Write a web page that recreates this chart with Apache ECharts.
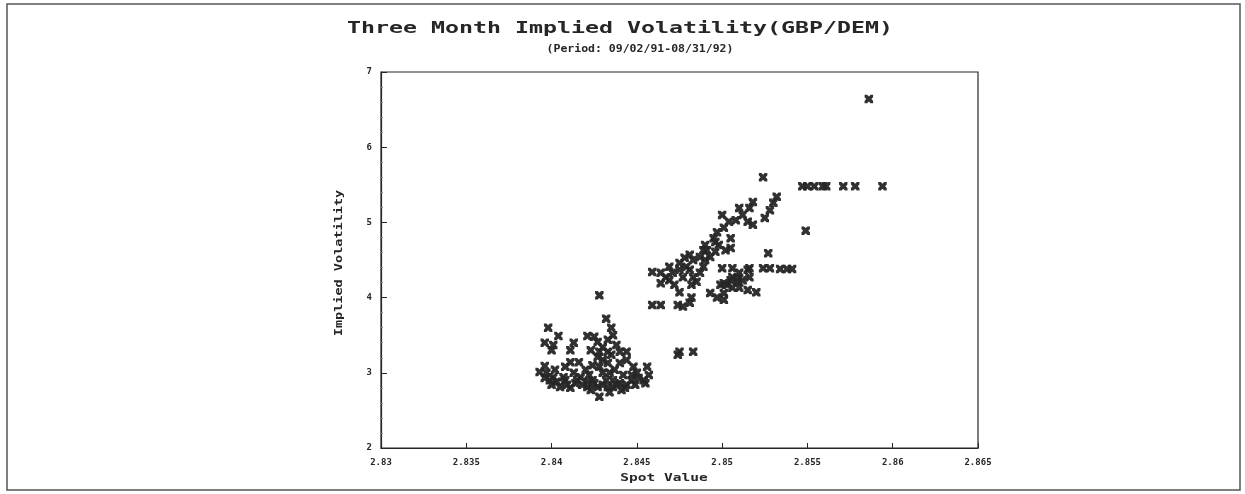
<!DOCTYPE html>
<html>
<head>
<meta charset="utf-8">
<script src="https://cdn.jsdelivr.net/npm/echarts@6/dist/echarts.min.js"></script>
<style>
  html, body { margin: 0; padding: 0; background: #fff; }
  #chart { width: 1245px; height: 494px; }
</style>
</head>
<body>
<div id="chart"></div>
<script>
// ===== data =====
const xTicks = [2.83, 2.835, 2.84, 2.845, 2.85, 2.855, 2.86, 2.865];
const yTicks = [2, 3, 4, 5, 6, 7];

// spot value / implied volatility pairs
const spotValues = [
  2.8428, 2.8432, 2.8435, 2.8436, 2.8398, 2.8404, 2.8396, 2.8400, 2.8401, 2.8413,
  2.8411, 2.8421, 2.8425, 2.8427, 2.8428, 2.8433, 2.8440, 2.8444, 2.8396, 2.8397,
  2.8401, 2.8403, 2.8407, 2.8411, 2.8413, 2.8417, 2.8421, 2.8424, 2.8428, 2.8430,
  2.8433, 2.8434, 2.8436, 2.8440, 2.8443, 2.8440, 2.8444, 2.8448, 2.8450, 2.8456,
  2.8454, 2.8455, 2.8428, 2.8399, 2.8405, 2.8393, 2.8421, 2.8427, 2.8433, 2.8436,
  2.8430, 2.8427, 2.8430, 2.8414, 2.8422, 2.8437, 2.8447, 2.8449, 2.8442, 2.8432,
  2.8409, 2.8402,
  2.8396, 2.8400, 2.8408, 2.8411, 2.8415, 2.8418, 2.8423, 2.8425, 2.8430, 2.8434,
  2.8438, 2.8441, 2.8444, 2.8447, 2.8451, 2.8457, 2.8420, 2.8424, 2.8435, 2.8438,
  2.8433, 2.8423, 2.8408, 2.8416,
  2.8474, 2.8475, 2.8483,
  2.8496, 2.8505, 2.8527, 2.8491, 2.8459, 2.8464, 2.8467, 2.8469, 2.8464, 2.8471,
  2.8475, 2.8477, 2.8481, 2.8483, 2.8485, 2.8482, 2.8475, 2.8500, 2.8506, 2.8501,
  2.8506, 2.8509, 2.8510, 2.8516, 2.8524, 2.8528, 2.8534, 2.8538, 2.8541, 2.8520,
  2.8493, 2.8497, 2.8501, 2.8459, 2.8464, 2.8474, 2.8477, 2.8481, 2.8482,
  2.8472, 2.8490, 2.8502,
  2.8524, 2.8532, 2.8530, 2.8528, 2.8518, 2.8516, 2.8510, 2.8512, 2.8515, 2.8518,
  2.8508, 2.8525, 2.8549, 2.8500, 2.8504, 2.8501, 2.8497, 2.8495, 2.8498, 2.8505,
  2.8489, 2.8487, 2.8490, 2.8483, 2.8481, 2.8478, 2.8479, 2.8475, 2.8469, 2.8487,
  2.8489, 2.8493, 2.8496, 2.8510, 2.8515, 2.8505, 2.8509, 2.8512, 2.8516, 2.8506,
  2.8503, 2.8499, 2.8501, 2.8515,
  2.8586, 2.8547, 2.8550, 2.8554, 2.8559, 2.8561, 2.8571, 2.8578, 2.8594
];
const impliedVols = [
  4.03, 3.72, 3.60, 3.50, 3.60, 3.49, 3.40, 3.30, 3.37, 3.40,
  3.30, 3.49, 3.48, 3.41, 3.28, 3.28, 3.28, 3.28, 3.09, 3.00,
  2.94, 2.88, 2.94, 3.14, 3.00, 2.94, 2.88, 2.90, 3.08, 3.17,
  3.13, 3.00, 2.90, 2.86, 2.80, 3.13, 3.17, 3.08, 3.00, 3.08,
  2.90, 2.86, 2.68, 2.90, 2.81, 3.01, 2.81, 2.81, 2.81, 2.81,
  3.00, 3.21, 3.34, 2.86, 2.97, 3.04, 2.90, 2.84, 2.97, 2.90,
  2.84, 3.04,
  2.93, 2.84, 2.90, 2.80, 2.90, 2.84, 2.77, 2.86, 2.84, 2.74,
  2.84, 2.77, 2.84, 2.97, 2.93, 2.97, 3.04, 3.10, 3.24, 3.37,
  3.44, 3.30, 3.08, 3.14,
  3.24, 3.28, 3.28,
  4.74, 4.66, 4.59, 4.63, 4.34, 4.33, 4.27, 4.23, 4.19, 4.33,
  4.37, 4.27, 4.37, 4.27, 4.21, 4.17, 4.07, 4.39, 4.39, 4.19,
  4.27, 4.21, 4.13, 4.39, 4.39, 4.39, 4.38, 4.38, 4.38, 4.07,
  4.06, 4.00, 3.97, 3.90, 3.90, 3.90, 3.88, 3.93, 4.00,
  4.17, 4.70, 4.63,
  5.60, 5.34, 5.26, 5.16, 5.27, 5.19, 5.19, 5.10, 5.01, 4.97,
  5.03, 5.06, 4.89, 5.10, 5.01, 4.93, 4.87, 4.79, 4.70, 4.79,
  4.63, 4.54, 4.50, 4.50, 4.57, 4.53, 4.41, 4.46, 4.41, 4.33,
  4.41, 4.54, 4.61, 4.33, 4.37, 4.23, 4.26, 4.23, 4.27, 4.13,
  4.17, 4.17, 4.06, 4.10,
  6.64, 5.48, 5.48, 5.48, 5.48, 5.48, 5.48, 5.48, 5.48
];

const points = spotValues.map((v, i) => [v, impliedVols[i]]);

// ===== chart =====
const chart = echarts.init(document.getElementById("chart"));
const ink = "#262626";
const font = s => "bold " + s + "px 'DejaVu Sans Mono', monospace";

// cross shaped marker like the printout
const crossMark = "path://M0,0L3,0L5,2L7,0L10,0L10,3L8,5L10,7L10,10L7,10L5,8L3,10L0,10L0,7L2,5L0,3Z";

chart.setOption({
    animation: false,
    backgroundColor: "#fff",
    grid: { left: 381, right: 267, top: 72, bottom: 46, show: true, borderColor: ink, borderWidth: 1.2 },
    xAxis: {
        type: "value",
        min: xTicks[0],
        max: xTicks[xTicks.length - 1],
        interval: 0.005,
        axisLine: { lineStyle: { color: ink, width: 1.2 } },
        axisTick: { inside: true, length: 5, lineStyle: { color: ink } },
        splitLine: { show: false },
        axisLabel: {
            margin: 10,
            color: ink,
            fontFamily: "DejaVu Sans Mono",
            fontWeight: "bold",
            fontSize: 9,
            formatter: v => {
                const t = xTicks.find(k => Math.abs(k - v) < 1e-6);
                return t !== undefined ? String(t) : "";
            }
        }
    },
    yAxis: {
        type: "value",
        min: yTicks[0],
        max: yTicks[yTicks.length - 1],
        interval: 1,
        axisLine: { show: true, lineStyle: { color: ink, width: 1.2 } },
        axisTick: { show: true, inside: true, length: 6, lineStyle: { color: ink } },
        minorTick: { show: true, splitNumber: 5, length: 2, lineStyle: { color: "#888" } },
        splitLine: { show: false },
        axisLabel: {
            margin: 9,
            color: ink,
            fontFamily: "DejaVu Sans Mono",
            fontWeight: "bold",
            fontSize: 9,
            formatter: v => yTicks.includes(v) ? String(v) : ""
        }
    },
    graphic: [
        // outer frame of the page
        { type: "rect", shape: { x: 7, y: 4, width: 1233, height: 486 },
          style: { fill: "none", stroke: "#555", lineWidth: 1.5 }, z: 0 },
        { type: "text", x: 620, y: 29, scaleX: 1.55,
          style: { text: "Three Month Implied Volatility(GBP/DEM)", font: font(15), fill: ink,
                   textAlign: "center", textVerticalAlign: "middle" } },
        { type: "text", x: 640, y: 49, scaleX: 1.15,
          style: { text: "(Period: 09/02/91-08/31/92)", font: font(10), fill: ink,
                   textAlign: "center", textVerticalAlign: "middle" } },
        { type: "text", x: 339, y: 263, rotation: Math.PI / 2, scaleX: 1.35,
          style: { text: "Implied Volatility", font: font(10), fill: ink,
                   textAlign: "center", textVerticalAlign: "middle" } },
        { type: "text", x: 664, y: 478, scaleX: 1.45,
          style: { text: "Spot Value", font: font(10), fill: ink,
                   textAlign: "center", textVerticalAlign: "middle" } }
    ],
    series: [{
        type: "scatter",
        data: points,
        symbol: crossMark,
        symbolSize: 8.5,
        itemStyle: { color: ink, opacity: 0.95 }
    }]
});
</script>
</body>
</html>
